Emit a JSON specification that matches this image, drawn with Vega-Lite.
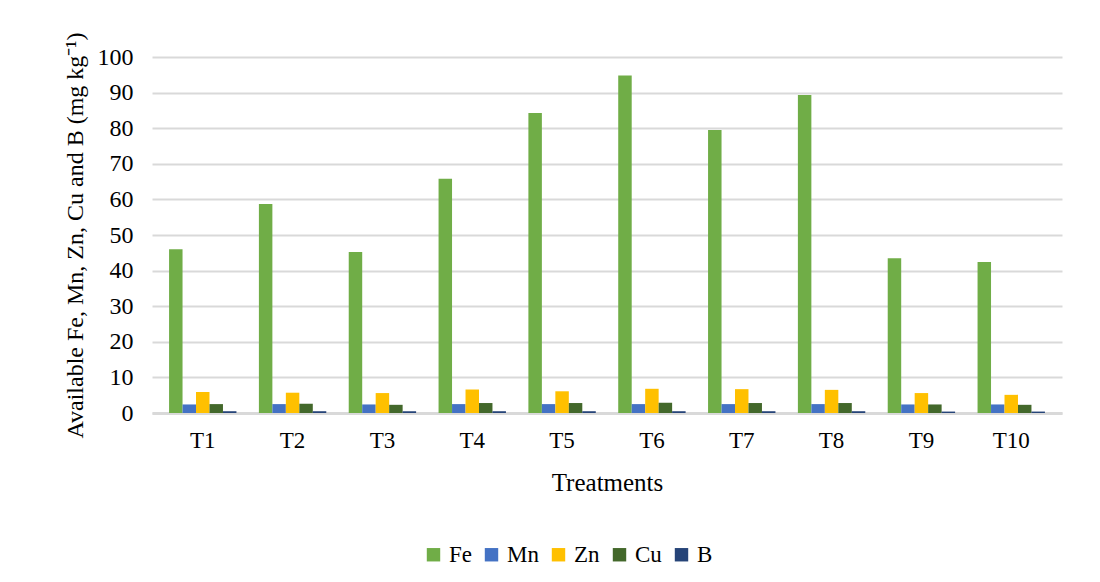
{
  "$schema": "https://vega.github.io/schema/vega-lite/v6.json",
  "width": 910,
  "height": 356,
  "autosize": {"type": "none"},
  "padding": {"left": 152, "top": 57, "right": 38, "bottom": 169},
  "background": "white",
  "config": {
    "font": "Liberation Serif",
    "view": {"stroke": null},
    "axis": {"labelFont": "Liberation Serif", "titleFont": "Liberation Serif"},
    "legend": {"labelFont": "Liberation Serif", "titleFont": "Liberation Serif"}
  },
  "data": {
    "values": [
      {"t": "T1", "el": "Fe", "v": 46.0}, {"t": "T1", "el": "Mn", "v": 2.4}, {"t": "T1", "el": "Zn", "v": 5.9}, {"t": "T1", "el": "Cu", "v": 2.5}, {"t": "T1", "el": "B", "v": 0.5},
      {"t": "T2", "el": "Fe", "v": 58.7}, {"t": "T2", "el": "Mn", "v": 2.5}, {"t": "T2", "el": "Zn", "v": 5.7}, {"t": "T2", "el": "Cu", "v": 2.6}, {"t": "T2", "el": "B", "v": 0.5},
      {"t": "T3", "el": "Fe", "v": 45.2}, {"t": "T3", "el": "Mn", "v": 2.4}, {"t": "T3", "el": "Zn", "v": 5.6}, {"t": "T3", "el": "Cu", "v": 2.3}, {"t": "T3", "el": "B", "v": 0.5},
      {"t": "T4", "el": "Fe", "v": 65.8}, {"t": "T4", "el": "Mn", "v": 2.5}, {"t": "T4", "el": "Zn", "v": 6.6}, {"t": "T4", "el": "Cu", "v": 2.8}, {"t": "T4", "el": "B", "v": 0.5},
      {"t": "T5", "el": "Fe", "v": 84.3}, {"t": "T5", "el": "Mn", "v": 2.5}, {"t": "T5", "el": "Zn", "v": 6.1}, {"t": "T5", "el": "Cu", "v": 2.8}, {"t": "T5", "el": "B", "v": 0.5},
      {"t": "T6", "el": "Fe", "v": 94.8}, {"t": "T6", "el": "Mn", "v": 2.5}, {"t": "T6", "el": "Zn", "v": 6.8}, {"t": "T6", "el": "Cu", "v": 2.9}, {"t": "T6", "el": "B", "v": 0.5},
      {"t": "T7", "el": "Fe", "v": 79.5}, {"t": "T7", "el": "Mn", "v": 2.5}, {"t": "T7", "el": "Zn", "v": 6.7}, {"t": "T7", "el": "Cu", "v": 2.8}, {"t": "T7", "el": "B", "v": 0.5},
      {"t": "T8", "el": "Fe", "v": 89.3}, {"t": "T8", "el": "Mn", "v": 2.5}, {"t": "T8", "el": "Zn", "v": 6.5}, {"t": "T8", "el": "Cu", "v": 2.8}, {"t": "T8", "el": "B", "v": 0.5},
      {"t": "T9", "el": "Fe", "v": 43.5}, {"t": "T9", "el": "Mn", "v": 2.4}, {"t": "T9", "el": "Zn", "v": 5.6}, {"t": "T9", "el": "Cu", "v": 2.4}, {"t": "T9", "el": "B", "v": 0.4},
      {"t": "T10", "el": "Fe", "v": 42.4}, {"t": "T10", "el": "Mn", "v": 2.4}, {"t": "T10", "el": "Zn", "v": 5.1}, {"t": "T10", "el": "Cu", "v": 2.3}, {"t": "T10", "el": "B", "v": 0.4}
    ]
  },
  "mark": {"type": "bar"},
  "encoding": {
    "x": {
      "field": "t",
      "type": "nominal",
      "sort": ["T1","T2","T3","T4","T5","T6","T7","T8","T9","T10"],
      "scale": {"paddingInner": 0.25, "paddingOuter": 0.19},
      "axis": {
        "title": "Treatments",
        "titleFontSize": 25,
        "titleFontWeight": "normal",
        "titleColor": "#000000",
        "titlePadding": 18,
        "labelFontSize": 23,
        "labelColor": "#000000",
        "labelAngle": 0,
        "labelPadding": 16,
        "labelDx": -6,
        "ticks": false,
        "domainColor": "#d9d9d9",
        "domainWidth": 3
      }
    },
    "xOffset": {
      "field": "el",
      "type": "nominal",
      "sort": ["Fe","Mn","Zn","Cu","B"],
      "scale": {"paddingInner": 0, "paddingOuter": 0}
    },
    "y": {
      "field": "v",
      "type": "quantitative",
      "scale": {"domain": [0, 100]},
      "axis": {
        "title": "Available Fe, Mn, Zn, Cu and B (mg kg⁻¹)",
        "titleFontSize": 24,
        "titleFontWeight": "normal",
        "titleColor": "#000000",
        "titlePadding": 10,
        "values": [0,10,20,30,40,50,60,70,80,90,100],
        "labelFontSize": 24,
        "labelColor": "#000000",
        "labelPadding": 19,
        "ticks": false,
        "domain": false,
        "grid": true,
        "gridColor": "#d9d9d9",
        "gridWidth": 2
      }
    },
    "color": {
      "field": "el",
      "type": "nominal",
      "sort": ["Fe","Mn","Zn","Cu","B"],
      "scale": {
        "domain": ["Fe","Mn","Zn","Cu","B"],
        "range": ["#70ad47","#4472c4","#ffc000","#43682b","#264478"]
      },
      "legend": {
        "title": null,
        "orient": "none",
        "legendX": 270,
        "legendY": 486,
        "padding": 0,
        "direction": "horizontal",
        "symbolType": "square",
        "symbolSize": 180,
        "symbolStrokeWidth": 0,
        "labelFont": "Liberation Serif",
        "labelFontSize": 23,
        "labelColor": "#000000",
        "labelOffset": 4,
        "columnPadding": 8
      }
    }
  }
}
